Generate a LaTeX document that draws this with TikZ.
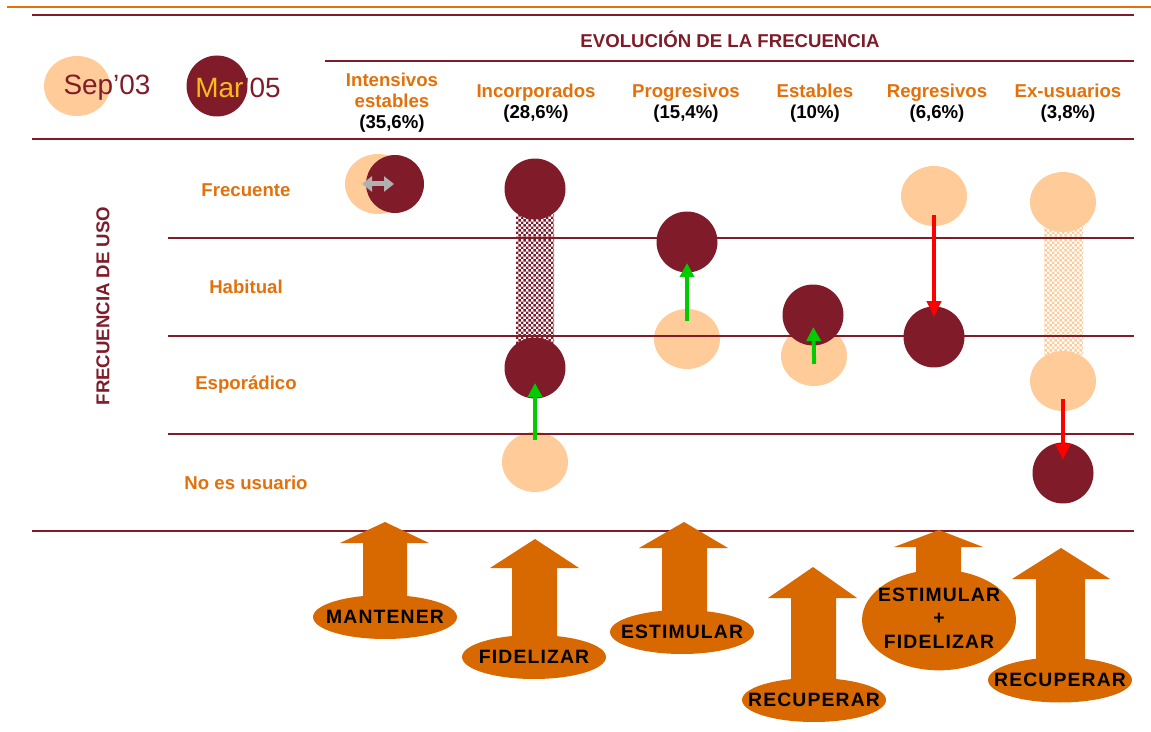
\documentclass[tikz,border=0pt]{standalone}
\usepackage{fontspec}
\setmainfont{Liberation Sans}
\newfontfamily\actfont{Liberation Sans}[LetterSpace=6]
\usepackage{tikz}
\usetikzlibrary{shapes.geometric, arrows.meta, patterns.meta}
\definecolor{wine-color}{RGB}{128,28,42}
\definecolor{peach-color}{RGB}{255,204,153}
\definecolor{label-color}{RGB}{228,112,10}
\definecolor{action-color}{RGB}{216,104,0}
\definecolor{mar-color}{RGB}{248,188,30}
\definecolor{gain-color}{RGB}{0,204,0}
\definecolor{loss-color}{RGB}{255,0,0}
\definecolor{swap-color}{RGB}{176,176,176}

\tikzdeclarepattern{
  name=finecheck,
  type=uncolored,
  bottom left={(0pt,0pt)},
  top right={(2.8pt,2.8pt)},
  tile size={(2.8pt,2.8pt)},
  code={
    \fill (0pt,0pt) rectangle (1.4pt,1.4pt);
    \fill (1.4pt,1.4pt) rectangle (2.8pt,2.8pt);
  }
}

\begin{document}
\begin{tikzpicture}[x=0.02cm, y=-0.02cm,
    header/.style={font=\fontsize{10.6}{12}\selectfont\bfseries, text=label-color, align=center, inner sep=0pt},
    rowname/.style={font=\fontsize{10.6}{12}\selectfont\bfseries, text=label-color, inner sep=0pt},
    sepdot/.style={ellipse, fill=peach-color, minimum width=1.32cm, minimum height=1.2cm, inner sep=0pt},
    mardot/.style={circle, fill=wine-color, minimum size=1.22cm, inner sep=0pt},
    rule/.style={draw=wine-color, line width=0.9pt},
    gain/.style={-{Triangle[width=0.28cm, length=0.28cm]}, draw=gain-color, line width=0.08cm},
    loss/.style={-{Triangle[width=0.28cm, length=0.32cm]}, draw=loss-color, line width=0.085cm},
    actionpill/.style={ellipse, fill=action-color, minimum width=2.88cm, minimum height=0.88cm, inner sep=0pt, font=\actfont\fontsize{11}{13.5}\selectfont\bfseries},
    block/.style={fill=action-color}]

    \useasboundingbox (0,0) rectangle (1151,732);

    % Legend
    \node[sepdot] (legSep) at (77,86) {};
    \node[text=wine-color, font=\fontsize{15.9}{18}\selectfont, inner sep=0pt] (legSepTxt) at (107,88) {Sep’03};
    \node[mardot] (legMar) at (217,86) {};
    \node[text=wine-color, font=\fontsize{15.9}{18}\selectfont, inner sep=0pt] (legMarTxt) at (238,88) {\textcolor{mar-color}{Mar}’05};

    % Headers
    \node[header, text=wine-color] (title) at (730,39) {EVOLUCIÓN DE LA FRECUENCIA};
    \node[header] (hInt) at (392,103) {Intensivos\\estables\\\textcolor{black}{(35,6\%)}};
    \node[header] (hInc) at (536,103) {Incorporados\\\textcolor{black}{(28,6\%)}};
    \node[header] (hPro) at (686,103) {Progresivos\\\textcolor{black}{(15,4\%)}};
    \node[header] (hEst) at (815,103) {Estables\\\textcolor{black}{(10\%)}};
    \node[header] (hReg) at (937,103) {Regresivos\\\textcolor{black}{(6,6\%)}};
    \node[header] (hExu) at (1068,103) {Ex-usuarios\\\textcolor{black}{(3,8\%)}};

    % Row names
    \node[rowname, text=wine-color, rotate=90] (axis) at (103,306) {FRECUENCIA DE USO};
    \node[rowname] (rFre) at (246,190) {Frecuente};
    \node[rowname] (rHab) at (246,287) {Habitual};
    \node[rowname] (rEsp) at (246,385) {Esporádico};
    \node[rowname] (rNo) at (246,483) {No es usuario};

    % Spread columns
    \fill[pattern={finecheck}, pattern color=wine-color] (516,215) rectangle (554,355);
    \fill[pattern={finecheck}, pattern color=peach-color] (1044,225) rectangle (1083,355);

    % Sep'03 dots
    \node[sepdot] (intP) at (378,184) {};
    \node[sepdot] (incP) at (535,462) {};
    \node[sepdot] (proP) at (687,339) {};
    \node[sepdot] (estP) at (814,356) {};
    \node[sepdot] (regP) at (934,196) {};
    \node[sepdot] (exuP) at (1063,202) {};
    \node[sepdot] (exuP2) at (1063,381) {};

    % Mar'05 dots
    \node[mardot, minimum size=1.16cm] (intD) at (395,184) {};
    \node[mardot] (incD) at (535,189) {};
    \node[mardot] (incD2) at (535,368) {};
    \node[mardot] (proD) at (687,242) {};
    \node[mardot] (estD) at (813,315) {};
    \node[mardot] (regD) at (934,337) {};
    \node[mardot] (exuD) at (1063,473) {};

    % Rules
    \draw[draw=label-color, line width=1.2pt] (7,7) -- (1151,7);
    \draw[rule] (32,15) -- (1134,15);
    \draw[rule] (325,61) -- (1134,61);
    \draw[rule] (32,139) -- (1134,139);
    \draw[rule] (168,238) -- (1134,238);
    \draw[rule] (168,336) -- (1134,336);
    \draw[rule] (168,434) -- (1134,434);
    \draw[rule] (32,531) -- (1134,531);

    % Moves
    \draw[{Triangle[width=0.3cm, length=0.2cm]}-{Triangle[width=0.3cm, length=0.2cm]}, draw=swap-color, line width=0.1cm, shorten <=-0.32cm, shorten >=0.02cm] (intP.center) -- (intD.center);
    \draw[gain, shorten <=0.44cm, shorten >=0.3cm] (incP.center) -- (incD2.center);
    \draw[gain, shorten <=0.36cm, shorten >=0.42cm] (proP.center) -- (proD.center);
    \draw[gain, shorten <=-0.16cm, shorten >=0.24cm] (estP.center) -- (estD.center);
    \draw[loss, shorten <=0.38cm, shorten >=0.4cm] (regP.center) -- (regD.center);
    \draw[loss, shorten <=0.36cm, shorten >=0.26cm] (exuP2.center) -- (exuD.center);

    % Action arrows
    \fill[block] (363,617) -- (363,543) -- (340,543) -- (385,522) -- (429,543) -- (407,543) -- (407,617) -- cycle;
    \fill[block] (512,657) -- (512,568) -- (490,568) -- (535,539) -- (579,568) -- (557,568) -- (557,657) -- cycle;
    \fill[block] (662,632) -- (662,548) -- (639,548) -- (684,522) -- (728,548) -- (707,548) -- (707,632) -- cycle;
    \fill[block] (791,700) -- (791,598) -- (768,598) -- (813,567) -- (857,598) -- (836,598) -- (836,700) -- cycle;
    \fill[block] (916,620) -- (916,547) -- (894,547) -- (939,530) -- (983,547) -- (961,547) -- (961,620) -- cycle;
    \fill[block] (1036,680) -- (1036,579) -- (1012,579) -- (1061,548) -- (1110,579) -- (1085,579) -- (1085,680) -- cycle;

    \node[actionpill] (actMan) at (385,617) {\makebox[0pt]{MANTENER}};
    \node[actionpill] (actFid) at (534,657) {\makebox[0pt]{FIDELIZAR}};
    \node[actionpill] (actEst) at (682,632) {\makebox[0pt]{ESTIMULAR}};
    \node[actionpill] (actRec) at (814,700) {\makebox[0pt]{RECUPERAR}};
    \node[actionpill, minimum width=3.08cm, minimum height=1.94cm] (actMix) at (939,620) {\makebox[0pt]{\begin{tabular}{@{}c@{}}ESTIMULAR\\+\\FIDELIZAR\end{tabular}}};
    \node[actionpill, minimum height=0.9cm] (actRec2) at (1060,680) {\makebox[0pt]{RECUPERAR}};
\end{tikzpicture}
\end{document}
